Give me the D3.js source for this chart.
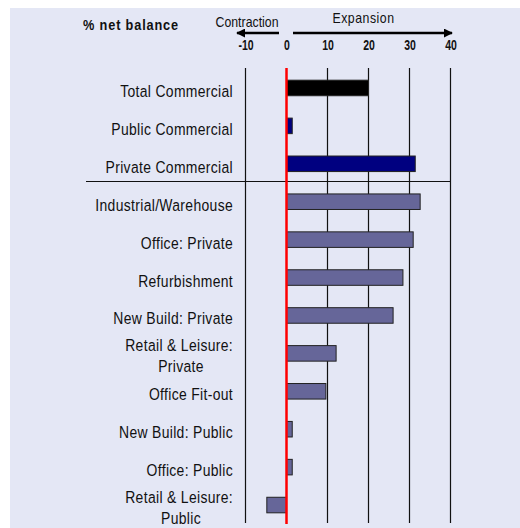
<!DOCTYPE html>
<html><head><meta charset="utf-8">
<script src="https://cdn.jsdelivr.net/npm/d3@7"></script>
<style>
html,body{margin:0;padding:0;background:#fff;}
svg{display:block;}
text{font-family:"Liberation Sans",Arial,sans-serif;fill:#111;}
</style></head>
<body>
<script>
const categories = ["Total Commercial","Public Commercial","Private Commercial","Industrial/Warehouse","Office: Private","Refurbishment","New Build: Private","Retail & Leisure: Private","Office Fit-out","New Build: Public","Office: Public","Retail & Leisure: Public"];
const labelLines = [["Total Commercial"],["Public Commercial"],["Private Commercial"],["Industrial/Warehouse"],["Office: Private"],["Refurbishment"],["New Build: Private"],["Retail & Leisure:","Private"],["Office Fit-out"],["New Build: Public"],["Office: Public"],["Retail & Leisure:","Public"]];
const values = [20, 1.4, 31.4, 32.6, 30.9, 28.4, 26, 12.1, 9.6, 1.4, 1.4, -4.8];
const groups = ["total","sector","sector","sub","sub","sub","sub","sub","sub","sub","sub","sub"];
const tickValues = [-10, 0, 10, 20, 30, 40];

const W = 520, H = 528;
const svg = d3.select("body").append("svg").attr("width", W).attr("height", H);
svg.append("rect").attr("x",10).attr("y",8).attr("width",W-10).attr("height",H-8).attr("fill","#e4e7f5");

const x = d3.scaleLinear().domain([-10, 40]).range([245.5, 450.5]);
const y = d3.scaleBand().domain(categories).range([69, 524]).paddingInner(0.59).paddingOuter(0.295);
const colors = {total:"#000000", sector:"#000080", sub:"#666699"};

function stext(g, tx, ty, s, str, size, anchor, weight, ls){
  return g.append("text").attr("transform",`translate(${tx},${ty}) scale(${s},1)`)
    .attr("text-anchor",anchor).attr("font-size",size).attr("font-weight",weight||"normal")
    .attr("letter-spacing", ls||0).text(str);
}

// gridlines
svg.append("g").selectAll("line").data(tickValues.filter(d=>d!==0)).join("line")
  .attr("x1",d=>x(d)).attr("x2",d=>x(d)).attr("y1",68).attr("y2",523)
  .attr("stroke","#111").attr("stroke-width",1.2);

// top tick labels via axis
const ax = svg.append("g").attr("transform","translate(0,49.5)")
  .call(d3.axisTop(x).tickValues(tickValues).tickSize(0).tickPadding(0).tickFormat(d=>String(d)));
ax.select(".domain").remove();
ax.selectAll("text").attr("font-size",14).attr("font-weight","bold").attr("fill","#111")
  .style("font-family",'"Liberation Sans",Arial,sans-serif').attr("transform","scale(0.75,1)");

// separator
svg.append("line").attr("x1",86).attr("x2",451).attr("y1",181.5).attr("y2",181.5).attr("stroke","#111").attr("stroke-width",1.2);

// bars
svg.append("g").selectAll("rect").data(categories).join("rect")
  .attr("x",(d,i)=>x(Math.min(0,values[i])))
  .attr("width",(d,i)=>Math.abs(x(values[i])-x(0)))
  .attr("y",d=>y(d)).attr("height",y.bandwidth())
  .attr("fill",(d,i)=>colors[groups[i]])
  .attr("stroke","#222").attr("stroke-width",1);

// zero line
svg.append("line").attr("x1",x(0)).attr("x2",x(0)).attr("y1",68).attr("y2",524).attr("stroke","#ff0000").attr("stroke-width",2.5);

// labels
const lg = svg.append("g");
categories.forEach((c,i)=>{
  const lines = labelLines[i];
  const cy = y(c) + y.bandwidth()/2;
  if (lines.length === 1) {
    stext(lg, 233, cy + 9, 0.82, lines[0], 17, "end", "normal", 0.4);
  } else {
    stext(lg, 233, cy - 2.5, 0.82, lines[0], 17, "end", "normal", 0.4);
    stext(lg, 181, cy + 18.5, 0.82, lines[1], 17, "middle", "normal", 0.4);
  }
});

// header
stext(svg, 83, 30, 0.85, "% net balance", 15, "start", "bold", 1);
stext(svg, 247, 27, 0.88, "Contraction", 14, "middle", "normal", 0);
stext(svg, 363.5, 23, 0.88, "Expansion", 14, "middle", "normal", 0.6);

// arrows
const defs = svg.append("defs");
defs.append("marker").attr("id","ah").attr("viewBox","0 0 10 10").attr("refX",9).attr("refY",5)
  .attr("markerWidth",3.6).attr("markerHeight",3.6).attr("orient","auto-start-reverse")
  .append("path").attr("d","M0,0 L10,5 L0,10 z").attr("fill","#000");
svg.append("line").attr("x1",279).attr("x2",237).attr("y1",33).attr("y2",33).attr("stroke","#000").attr("stroke-width",2.5).attr("marker-end","url(#ah)");
svg.append("line").attr("x1",293).attr("x2",452).attr("y1",33).attr("y2",33).attr("stroke","#000").attr("stroke-width",2.5).attr("marker-end","url(#ah)");
</script>
</body></html>
